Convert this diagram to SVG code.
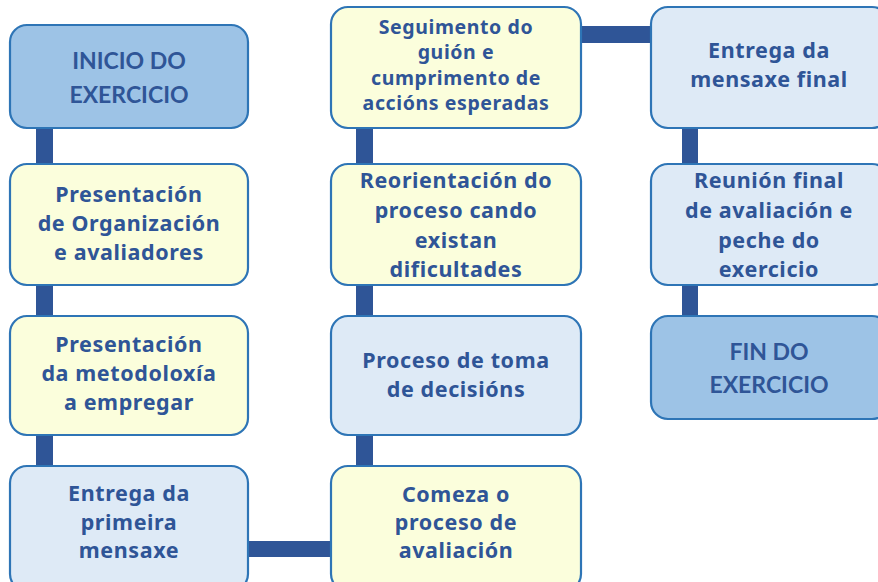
<svg xmlns="http://www.w3.org/2000/svg" width="878" height="582" viewBox="0 0 878 582">
<style>
.box{stroke:#2e75b6;stroke-width:2.2}
.y{fill:#fbfedc}
.l{fill:#deeaf6}
.d{fill:#9dc3e6}
text{font-family:"Noto Sans","Open Sans",sans-serif;font-weight:bold;font-size:21.5px;letter-spacing:0.6px;fill:#2f5597;text-anchor:middle}
text.c{font-family:Lato,"Liberation Sans",sans-serif;font-size:23px;letter-spacing:0}
text.s{font-size:19.5px;letter-spacing:0.6px}
.bar{fill:#2f5597}
</style>
<rect width="878" height="582" fill="#ffffff"/>
<g id="connectors">
<rect class="bar" x="36" y="128" width="17" height="36"/>
<rect class="bar" x="36" y="285" width="17" height="31"/>
<rect class="bar" x="36" y="435" width="17" height="31"/>
<rect class="bar" x="247" y="541" width="85" height="16"/>
<rect class="bar" x="356" y="435" width="17" height="31"/>
<rect class="bar" x="356" y="285" width="17" height="31"/>
<rect class="bar" x="356" y="128" width="17" height="36"/>
<rect class="bar" x="580" y="26" width="72" height="17"/>
<rect class="bar" x="682" y="128" width="16" height="36"/>
<rect class="bar" x="682" y="285" width="16" height="31"/>
</g>
<g id="inicio">
<rect class="box d" x="10" y="25" width="238" height="103" rx="17"/>
<text class="c" x="129" y="69">INICIO DO</text>
<text class="c" x="129" y="103">EXERCICIO</text>
</g>
<g id="presentacion-organizacion">
<rect class="box y" x="10" y="164" width="238" height="121" rx="17"/>
<text x="129" y="202">Presentación</text>
<text x="129" y="231">de Organización</text>
<text x="129" y="260">e avaliadores</text>
</g>
<g id="presentacion-metodoloxia">
<rect class="box y" x="10" y="316" width="238" height="119" rx="17"/>
<text x="129" y="352">Presentación</text>
<text x="129" y="381">da metodoloxía</text>
<text x="129" y="410">a empregar</text>
</g>
<g id="entrega-primeira">
<rect class="box l" x="10" y="466" width="238" height="125" rx="17"/>
<text x="129" y="501">Entrega da</text>
<text x="129" y="530">primeira</text>
<text x="129" y="558">mensaxe</text>
</g>
<g id="comeza">
<rect class="box y" x="331" y="466" width="250" height="125" rx="17"/>
<text x="456" y="502">Comeza o</text>
<text x="456" y="530">proceso de</text>
<text x="456" y="558">avaliación</text>
</g>
<g id="toma-decisions">
<rect class="box l" x="331" y="316" width="250" height="119" rx="17"/>
<text x="456" y="368">Proceso de toma</text>
<text x="456" y="397">de decisións</text>
</g>
<g id="reorientacion">
<rect class="box y" x="331" y="164" width="250" height="121" rx="17"/>
<text x="456" y="188">Reorientación do</text>
<text x="456" y="218">proceso cando</text>
<text x="456" y="248">existan</text>
<text x="456" y="277">dificultades</text>
</g>
<g id="seguimento">
<rect class="box y" x="331" y="7" width="250" height="121" rx="17"/>
<text class="s" x="456" y="34">Seguimento do</text>
<text class="s" x="456" y="59">guión e</text>
<text class="s" x="456" y="85">cumprimento de</text>
<text class="s" x="456" y="110">accións esperadas</text>
</g>
<g id="entrega-final">
<rect class="box l" x="651" y="7" width="238" height="121" rx="17"/>
<text x="769" y="58">Entrega da</text>
<text x="769" y="87">mensaxe final</text>
</g>
<g id="reunion-final">
<rect class="box l" x="651" y="164" width="238" height="121" rx="17"/>
<text x="769" y="188">Reunión final</text>
<text x="769" y="218">de avaliación e</text>
<text x="769" y="248">peche do</text>
<text x="769" y="277">exercicio</text>
</g>
<g id="fin">
<rect class="box d" x="651" y="316" width="238" height="103" rx="17"/>
<text class="c" x="769" y="360">FIN DO</text>
<text class="c" x="769" y="393">EXERCICIO</text>
</g>
</svg>
